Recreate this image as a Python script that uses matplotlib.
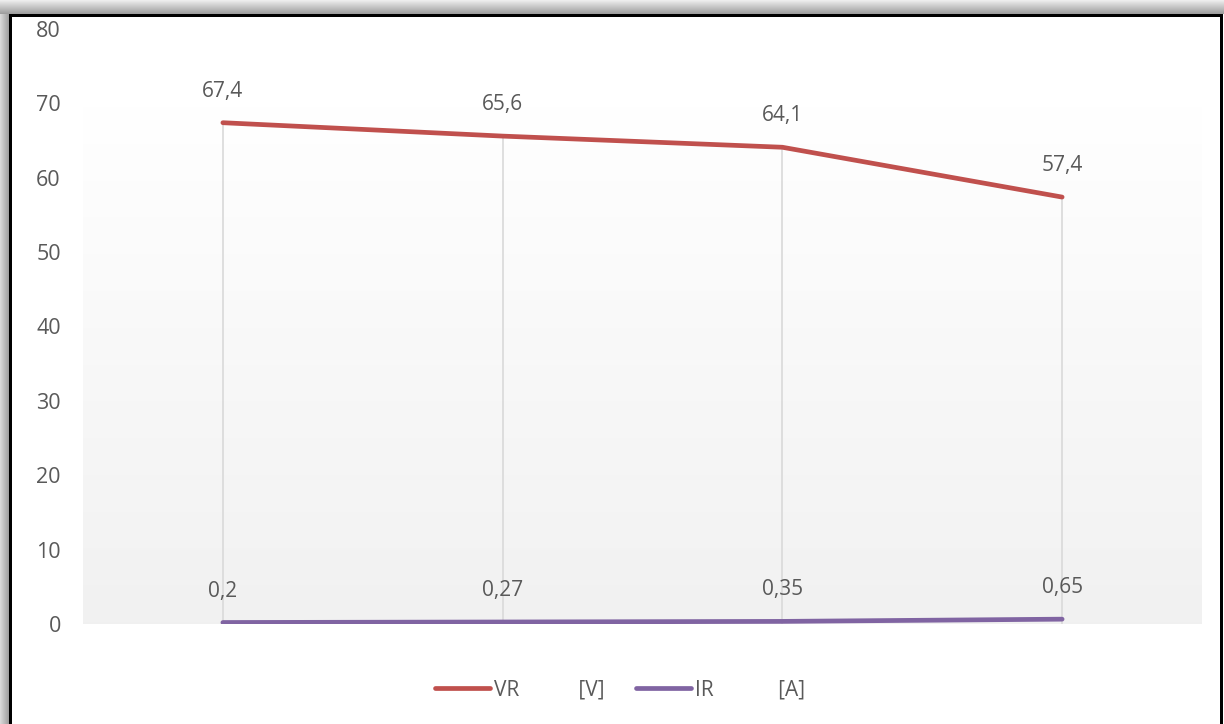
import numpy as np
import matplotlib
matplotlib.use("Agg")
import matplotlib.pyplot as plt
from matplotlib.lines import Line2D

plt.rcParams['font.family'] = ['Open Sans', 'DejaVu Sans']

# measurement points
categories = ['1', '2', '3', '4']
vr = [67.4, 65.6, 64.1, 57.4]
ir = [0.2, 0.27, 0.35, 0.65]
vr_labels = ['67,4', '65,6', '64,1', '57,4']
ir_labels = ['0,2', '0,27', '0,35', '0,65']
legend_labels = ['VR' + ' ' * 11 + '[V]', 'IR' + ' ' * 12 + '[A]']

red = '#C0504D'
purple = '#8064A2'
textgray = '#595959'

W, H = 1224, 724
fig = plt.figure(figsize=(W / 100, H / 100), dpi=100)

# frame: soft shadow on top/left, then a black border
bg = np.ones((H, W, 3))
top = np.linspace(0.93, 0.62, 14)
for i, v in enumerate(top):
    bg[i, :, :] = v
left = np.linspace(0.85, 0.60, 10)
for j, v in enumerate(left):
    bg[14:, j, :] = np.minimum(bg[14:, j, :], v)
bg[14:17, 9:1223, :] = 0.0
bg[14:, 9:12, :] = 0.0
bg[14:, 1220:1223, :] = 0.0
fig.figimage(bg[::-1], xo=0, yo=0, origin='lower', zorder=-5)

ax = fig.add_axes([83 / W, 1 - 624 / H, (1202 - 83) / W, (624 - 29) / H])
ax.patch.set_alpha(0)
ax.set_xlim(0, 4)
ax.set_ylim(0, 80)

# plot-area gradient (white at the top, light gray at the bottom)
grad = np.linspace(1.0, 0.945, 256).reshape(-1, 1)
grad = np.repeat(grad[:, :, None], 3, axis=2)
ax.imshow(grad, extent=(0, 4, 0, 69.6), aspect='auto', origin='upper',
          zorder=0, interpolation='bilinear')

x = np.arange(len(categories)) + 0.5

# drop lines from the top series down to zero
for xi, v in zip(x, vr):
    ax.plot([xi, xi], [0, v], color='#d9d9d9', lw=1.2, zorder=1,
            solid_capstyle='butt')

ax.plot(x, vr, color=red, lw=3.4, solid_capstyle='round', zorder=3)
ax.plot(x, ir, color=purple, lw=3.4, solid_capstyle='round', zorder=3)

for xi, v, s in zip(x, vr, vr_labels):
    ax.annotate(s, (xi, v), xytext=(0, 21), textcoords='offset pixels',
                ha='center', va='bottom', fontsize=15, color=textgray)
for xi, v, s in zip(x, ir, ir_labels):
    ax.annotate(s, (xi, v), xytext=(0, 21), textcoords='offset pixels',
                ha='center', va='bottom', fontsize=15, color=textgray)

ax.set_yticks(range(0, 81, 10))
ax.set_xticks([])
ax.tick_params(axis='y', length=0, pad=16, labelsize=15.5, labelcolor=textgray)
for s in ax.spines.values():
    s.set_visible(False)

handles = [Line2D([], [], color=red, lw=3.4, solid_capstyle='round'),
           Line2D([], [], color=purple, lw=3.4, solid_capstyle='round')]
fig.legend(handles, legend_labels, loc='center', ncol=2,
           bbox_to_anchor=(620 / W, 1 - 690 / H), frameon=False,
           fontsize=15, labelcolor=textgray, handlelength=2.65,
           handletextpad=0.2, columnspacing=1.5)

fig.savefig('out.png', dpi=100)
